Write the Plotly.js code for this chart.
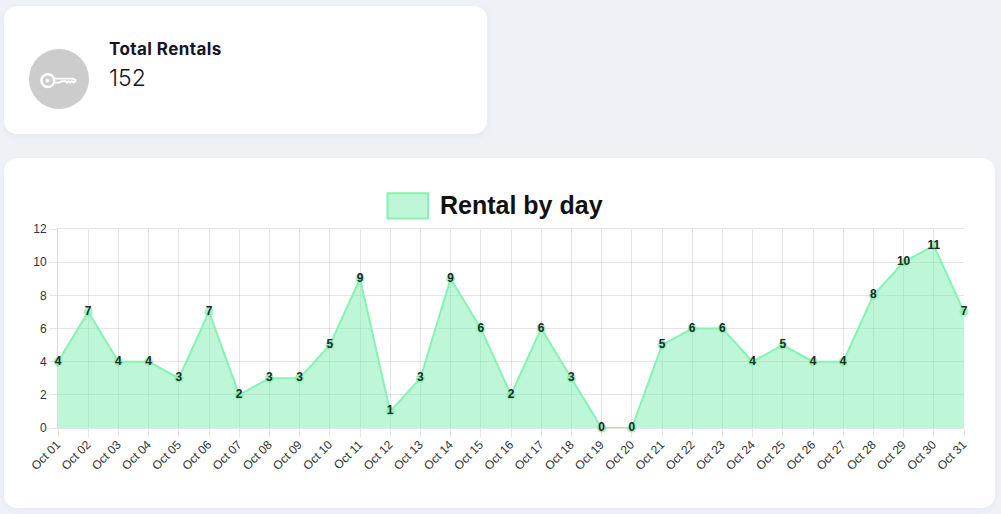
<!DOCTYPE html>
<html>
<head>
<meta charset="utf-8">
<script src="https://cdn.plot.ly/plotly-3.0.1.min.js"></script>
<style>
html,body{margin:0;padding:0;width:1001px;height:514px;overflow:hidden;background:#eef1f6;}
.card{position:absolute;background:#fff;box-sizing:border-box;}
#c1{left:4px;top:6px;width:483px;height:128px;border-radius:13px;box-shadow:0 2px 6px rgba(100,110,150,.08);}
#c2{left:4px;top:158px;width:991px;height:350px;border-radius:13px;box-shadow:0 2px 6px rgba(100,110,150,.06);}
#icon{position:absolute;left:29px;top:49px;width:60px;height:60px;}
#t1{position:absolute;left:109px;top:38px;font:700 17px/22px Inter,"Noto Sans",sans-serif;color:#15132b;letter-spacing:.42px;}
#t2{position:absolute;left:109px;top:65px;font:300 23px/26px Inter,"Noto Sans",sans-serif;color:#15132b;}
#chart{position:absolute;left:0;top:0;width:1001px;height:514px;}
</style>
</head>
<body>
<div class="card" id="c1"></div>
<div class="card" id="c2"></div>
<svg id="icon" viewBox="0 0 60 60">
<circle cx="30" cy="30" r="30" fill="#cccccc"/>
<g fill="none" stroke="#fff" stroke-linejoin="round" stroke-linecap="round">
<circle cx="18.8" cy="31.6" r="6.4" stroke-width="2.4"/>
<path d="M25 29.6 H43.8 L47 31.4 L44.6 33.6 L43 32.2 L41.4 33.8 L39.8 32.2 L38.2 33.8 L36.6 32.2 L33 32.2 L30 33.6 H25" stroke-width="1.9"/>
</g>
<circle cx="18.5" cy="31.6" r="1.9" fill="#fff"/>
</svg>
<div id="t1">Total Rentals</div>
<div id="t2">152</div>
<div id="chart"></div>
<script>
const categories = ["Oct 01","Oct 02","Oct 03","Oct 04","Oct 05","Oct 06","Oct 07","Oct 08","Oct 09","Oct 10","Oct 11","Oct 12","Oct 13","Oct 14","Oct 15","Oct 16","Oct 17","Oct 18","Oct 19","Oct 20","Oct 21","Oct 22","Oct 23","Oct 24","Oct 25","Oct 26","Oct 27","Oct 28","Oct 29","Oct 30","Oct 31"];
const rentals = [4,7,4,4,3,7,2,3,3,5,9,1,3,9,6,2,6,3,0,0,5,6,6,4,5,4,4,8,10,11,7];
const seriesName = "Rental by day";
const lineColor = "#86f2b4";
const gridColor = "rgba(0,0,0,0.1)";
const axisFont = {family:"Liberation Sans, Arial, sans-serif", size:12, color:"#333"};

const trace = {
  x: categories, y: rentals, type:"scatter", mode:"lines+markers+text",
  name: seriesName, fill:"tozeroy", fillcolor:"rgba(125,240,175,0.5)",
  line:{color:lineColor,width:2,shape:"linear"},
  marker:{color:"rgba(125,240,175,0.7)",size:9,line:{width:0}},
  text: rentals.map(String), textposition:"middle center",
  textfont:{family:"Liberation Sans, Arial, sans-serif",size:12,color:"#1c2b24",weight:700},
  cliponaxis:false, hoverinfo:"x+y"
};
const layout = {
  width:1001,height:514,showlegend:false,
  paper_bgcolor:"rgba(0,0,0,0)",plot_bgcolor:"rgba(0,0,0,0)",
  margin:{l:58,r:37,t:228.5,b:85.5,pad:0},
  xaxis:{type:"category",range:[0,30],tickangle:-45,tickfont:axisFont,showgrid:true,gridcolor:gridColor,gridwidth:1,
    ticks:"outside",ticklen:8,tickcolor:gridColor,tickwidth:1,zeroline:false,showline:true,linecolor:gridColor,linewidth:1,mirror:true,automargin:false,
    ticklabelstandoff:-4,ticklabelshift:-1},
  yaxis:{range:[0,12],tickvals:[0,2,4,6,8,10,12],ticktext:["0","2","4","6","8","10","12"],tickfont:axisFont,showgrid:true,gridcolor:gridColor,gridwidth:1,
    ticks:"outside",ticklen:8,tickcolor:gridColor,tickwidth:1,zeroline:false,showline:true,linecolor:"rgba(0,0,0,0.15)",linewidth:1,automargin:false},
  shapes:[{type:"rect",xref:"paper",yref:"paper",x0:(387.5-58)/906,x1:(428-58)/906,y0:(428.5-218)/200,y1:(428.5-192.5)/200,
    fillcolor:"rgba(125,240,175,0.5)",line:{color:lineColor,width:2}}],
  annotations:[{xref:"paper",yref:"paper",x:(437.5-58)/906,y:(428.5-204)/200,xanchor:"left",yanchor:"middle",showarrow:false,
    text:"<b>"+seriesName+"</b>",font:{family:"Liberation Sans, Arial, sans-serif",size:25,color:"#111"}}]
};
Plotly.newPlot("chart",[trace],layout,{displayModeBar:false,staticPlot:true});
</script>
</body>
</html>
